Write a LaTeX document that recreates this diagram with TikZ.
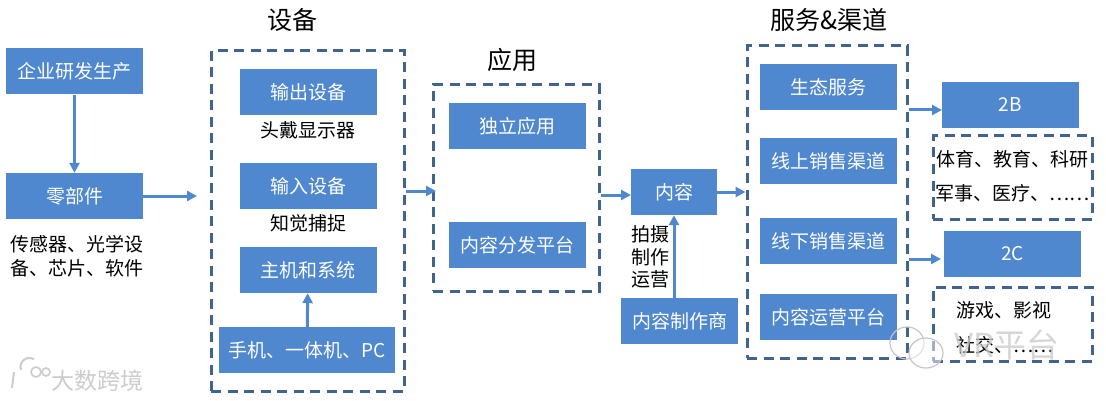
\documentclass[tikz,border=0pt]{standalone}
\usepackage{fontspec}
\setmainfont{Noto Sans CJK SC}
\usetikzlibrary{arrows.meta}
\definecolor{boxblue}{HTML}{4F88CF}
\definecolor{framegray}{HTML}{41648C}

\begin{document}
\begin{tikzpicture}[x=1pt, y=-1pt,
    bluebox/.style={rectangle, fill=boxblue, text=white, inner sep=0pt, minimum width=137pt, minimum height=46pt, font=\fontsize{19}{23}\selectfont},
    frame/.style={rectangle, draw=framegray, line width=3pt, dash pattern=on 10pt off 6.5pt, inner sep=0pt},
    title/.style={inner sep=0pt, font=\fontsize{25}{29}\selectfont},
    note/.style={inner sep=0pt, align=center, font=\fontsize{19}{24.5}\selectfont},
    flow/.style={draw=boxblue, line width=3pt, -{Stealth[length=10pt, width=10pt, inset=0pt]}},
    stamp/.style={inner sep=0pt, text=gray!40, font=\fontsize{33}{36}\selectfont}]
    \useasboundingbox (0,0) rectangle (1106,401);

    % Rahmen
    \node[frame, minimum width=193pt, minimum height=340pt] (devframe) at (307.5,221) {};
    \node[frame, minimum width=166pt, minimum height=206pt] (appframe) at (516,188) {};
    \node[frame, minimum width=160pt, minimum height=312pt] (servframe) at (827,202) {};
    \node[frame, minimum width=159pt, minimum height=83pt] (bframe) at (1012.5,177.5) {};
    \node[frame, minimum width=159pt, minimum height=74pt] (cframe) at (1012.5,324) {};

    % Titel
    \node[title] (devtitle) at (292,20) {设备};
    \node[title] (apptitle) at (512,60) {应用};
    \node[title] (servtitle) at (829,20) {服务\&渠道};

    % Links
    \node[bluebox] (company) at (74.5,71.5) {企业研发生产};
    \node[bluebox] (parts) at (74.5,196) {零部件};
    \node[note] (partsnote) at (77,256) {传感器、光学设\\备、芯片、软件};

    % Geraete
    \node[bluebox] (output) at (308.5,92) {输出设备};
    \node[note] (outputnote) at (308,130) {头戴显示器};
    \node[bluebox] (input) at (308.5,186) {输入设备};
    \node[note] (inputnote) at (308,223) {知觉捕捉};
    \node[bluebox] (host) at (308,270) {主机和系统};
    \node[bluebox, minimum width=176pt] (phone) at (307,350) {手机、一体机、PC};

    % Anwendungen
    \node[bluebox] (standalone) at (517.5,126) {独立应用};
    \node[bluebox] (platform) at (517.5,245) {内容分发平台};

    % Inhalt
    \node[bluebox, minimum width=86pt] (content) at (674,192) {内容};
    \node[note, font=\fontsize{19}{22.5}\selectfont] (contentnote) at (650,257) {拍摄\\制作\\运营};
    \node[bluebox, minimum width=117pt] (maker) at (679.5,321) {内容制作商};

    % Dienste
    \node[bluebox] (eco) at (828.5,87) {生态服务};
    \node[bluebox] (online) at (828.5,161) {线上销售渠道};
    \node[bluebox] (offline) at (828.5,241) {线下销售渠道};
    \node[bluebox] (operate) at (828.5,317) {内容运营平台};

    % Rechts
    \node[bluebox] (tob) at (1010.5,105) {2B};
    \node[note, font=\fontsize{19}{34}\selectfont] (bnote) at (1012.5,176) {体育、教育、科研\\军事、医疗、……};
    \node[bluebox] (toc) at (1012.5,254) {2C};
    \node[note, font=\fontsize{19}{35}\selectfont, align=left] (cnote) at (1005,327.5) {游戏、影视\\社交、……};

    % Hilfspunkte
    \coordinate (partsend) at (197,196);
    \coordinate (appin) at (436,191);
    \coordinate (contentin) at (631,195);
    \coordinate (tobin) at (942,110);
    \coordinate (tocin) at (941,259);

    % Pfeile
    \draw[flow] (company) -- (parts);
    \draw[flow] (parts) -- (partsend);
    \draw[flow] (phone) -- (host);
    \draw[flow] (devframe.east |- appin) -- (appin);
    \draw[flow] (appframe.east |- contentin) -- (contentin);
    \draw[flow] (content) -- (servframe.west |- content.east);
    \draw[flow] (content.south |- maker.north) -- (content.south);
    \draw[flow] (servframe.east |- tobin) -- (tobin);
    \draw[flow] (servframe.east |- tocin) -- (tocin);

    % Wasserzeichen
    \node[stamp, font=\fontsize{23}{26}\selectfont] (crossborder) at (97.5,381) {大数跨境};
    \draw[gray!40, line width=2pt] (14,372) -- (12,388) (21,370) arc (160:300:9);
    \draw[gray!40, line width=1.6pt] (36,372) circle (5) (46,372) circle (4);
    \draw[gray!45, line width=1.2pt] (907,343) ellipse (17 and 16);
    \draw[gray!45, line width=1.2pt, fill=white, fill opacity=0.5] (926,353) ellipse (17 and 15);
    \node[stamp, opacity=0.8] (vrtext) at (1007,345) {VR平台};
\end{tikzpicture}
\end{document}
